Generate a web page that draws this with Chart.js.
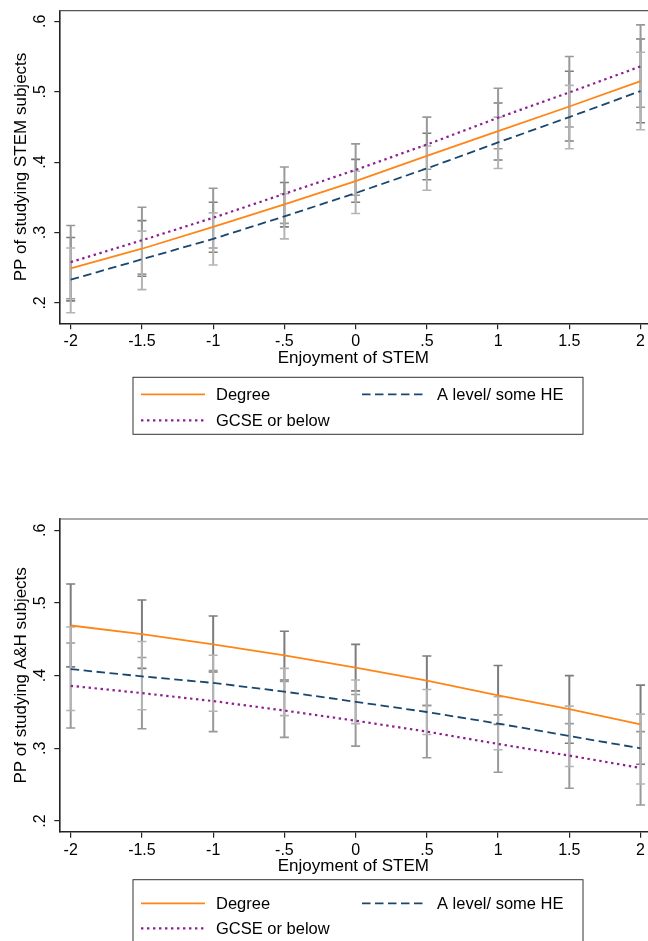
<!DOCTYPE html>
<html>
<head>
<meta charset="utf-8">
<script src="https://cdn.jsdelivr.net/npm/chart.js@4.4.1/dist/chart.umd.min.js"></script>
<style>
  html, body { margin: 0; padding: 0; background: #fff; }
  canvas { display: block; }
</style>
</head>
<body>
<canvas id="stem-chart" width="648" height="470"></canvas>
<canvas id="ah-chart" width="648" height="471"></canvas>
<script>
const enjoyment = [-2, -1.5, -1, -0.5, 0, 0.5, 1, 1.5, 2];
const xTickLabels = ['-2', '-1.5', '-1', '-.5', '0', '.5', '1', '1.5', '2'];
const yTickValues = [0.2, 0.3, 0.4, 0.5, 0.6];
const yTickLabels = ['.2', '.3', '.4', '.5', '.6'];

// predicted probability of studying STEM subjects, with 95% CI
const stemDegree   = [0.249, 0.277, 0.308, 0.340, 0.373, 0.409, 0.444, 0.479, 0.515];
const stemDegreeLo = [0.203, 0.238, 0.272, 0.308, 0.343, 0.375, 0.403, 0.430, 0.456];
const stemDegreeHi = [0.293, 0.317, 0.343, 0.371, 0.404, 0.441, 0.484, 0.529, 0.575];
const stemALevel   = [0.233, 0.262, 0.291, 0.323, 0.356, 0.391, 0.428, 0.464, 0.501];
const stemALevelLo = [0.186, 0.219, 0.254, 0.291, 0.327, 0.360, 0.391, 0.419, 0.446];
const stemALevelHi = [0.278, 0.302, 0.328, 0.355, 0.387, 0.423, 0.464, 0.509, 0.556];
const stemGcse     = [0.258, 0.289, 0.321, 0.355, 0.389, 0.425, 0.463, 0.499, 0.536];
const stemGcseLo   = [0.206, 0.241, 0.278, 0.313, 0.353, 0.390, 0.419, 0.450, 0.478];
const stemGcseHi   = [0.310, 0.336, 0.363, 0.393, 0.426, 0.464, 0.505, 0.550, 0.595];

// predicted probability of studying A&H subjects, with 95% CI
const ahDegree   = [0.469, 0.457, 0.443, 0.428, 0.411, 0.393, 0.373, 0.354, 0.333];
const ahDegreeLo = [0.412, 0.410, 0.405, 0.394, 0.379, 0.359, 0.333, 0.307, 0.278];
const ahDegreeHi = [0.526, 0.504, 0.482, 0.461, 0.443, 0.427, 0.414, 0.400, 0.387];
const ahALevel   = [0.409, 0.399, 0.390, 0.378, 0.364, 0.350, 0.334, 0.317, 0.300];
const ahALevelLo = [0.352, 0.353, 0.351, 0.345, 0.334, 0.319, 0.298, 0.275, 0.251];
const ahALevelHi = [0.467, 0.447, 0.428, 0.410, 0.394, 0.381, 0.371, 0.358, 0.347];
const ahGcse     = [0.386, 0.376, 0.365, 0.352, 0.338, 0.323, 0.306, 0.290, 0.273];
const ahGcseLo   = [0.328, 0.327, 0.323, 0.315, 0.303, 0.287, 0.267, 0.245, 0.222];
const ahGcseHi   = [0.445, 0.425, 0.407, 0.392, 0.374, 0.359, 0.346, 0.334, 0.323];

const FONT = '"Liberation Sans", Arial, Helvetica, sans-serif';

const groupStyles = {
    degree: { label: 'Degree', color: '#ff8517', dash: [], width: 1.8, ci: '#7c7c7c' },
    alevel: { label: 'A level/ some HE', color: '#1a476f', dash: [8.5, 4.5], width: 1.8, ci: '#b4b4b4' },
    gcse:   { label: 'GCSE or below', color: '#8e1f92', dash: [2.4, 3.6], width: 2.2, ci: '#999999' }
};

// confidence interval caps, drawn under the prediction lines
const ciPlugin = {
    id: 'ciBars',
    beforeDatasetsDraw(chart, args, opts) {
        const { ctx, scales: { x, y } } = chart;
        ctx.save();
        opts.series.forEach(s => {
            ctx.strokeStyle = s.ci;
            enjoyment.forEach((v, i) => {
                const px = x.getPixelForValue(v);
                const lo = y.getPixelForValue(s.lo[i]);
                const hi = y.getPixelForValue(s.hi[i]);
                ctx.lineWidth = 2;
                ctx.beginPath();
                ctx.moveTo(px, lo);
                ctx.lineTo(px, hi);
                ctx.stroke();
                ctx.lineWidth = 1.6;
                ctx.beginPath();
                ctx.moveTo(px - 4.5, lo); ctx.lineTo(px + 4.5, lo);
                ctx.moveTo(px - 4.5, hi); ctx.lineTo(px + 4.5, hi);
                ctx.stroke();
            });
        });
        ctx.restore();
    }
};

// top frame line, vertical y tick labels and the boxed legend
const framePlugin = {
    id: 'frameLegend',
    afterDraw(chart, args, opts) {
        const { ctx, chartArea, scales: { y } } = chart;
        ctx.save();
        ctx.strokeStyle = '#555';
        ctx.lineWidth = 1.2;
        ctx.beginPath();
        ctx.moveTo(chartArea.left, chartArea.top);
        ctx.lineTo(chart.width, chartArea.top);
        ctx.stroke();

        ctx.fillStyle = '#000';
        ctx.font = '16px ' + FONT;
        ctx.textAlign = 'center';
        ctx.textBaseline = 'middle';
        yTickValues.forEach((v, i) => {
            ctx.save();
            ctx.translate(40.7, y.getPixelForValue(v));
            ctx.rotate(-Math.PI / 2);
            ctx.fillText(yTickLabels[i], 0, 0);
            ctx.restore();
        });

        const top = chartArea.bottom + opts.boxTop;
        ctx.strokeStyle = '#333';
        ctx.lineWidth = 1;
        ctx.strokeRect(133, top, 450, opts.boxHeight);

        const rows = [
            { s: groupStyles.degree, x: 141, y: chartArea.bottom + opts.row1 },
            { s: groupStyles.alevel, x: 362, y: chartArea.bottom + opts.row1 },
            { s: groupStyles.gcse, x: 141, y: chartArea.bottom + opts.row2 }
        ];
        ctx.textAlign = 'left';
        ctx.font = '16.5px ' + FONT;
        rows.forEach(r => {
            ctx.strokeStyle = r.s.color;
            ctx.lineWidth = r.s.width;
            ctx.setLineDash(r.s.dash);
            ctx.beginPath();
            ctx.moveTo(r.x, r.y);
            ctx.lineTo(r.x + 64, r.y);
            ctx.stroke();
            ctx.setLineDash([]);
            ctx.fillText(r.s.label, r.x + 75, r.y + 1);
        });
        ctx.restore();
    }
};

function makeChart(id, yTitle, yMin, yMax, padTop, padBottom, legendPos, series) {
    const datasets = series.map(s => ({
        label: s.label,
        data: enjoyment.map((v, i) => ({ x: v, y: s.values[i] })),
        borderColor: s.color,
        borderWidth: s.width,
        borderDash: s.dash,
        borderCapStyle: 'butt',
        pointRadius: 0,
        fill: false,
        tension: 0
    }));

    return new Chart(document.getElementById(id), {
        type: 'line',
        data: { datasets },
        options: {
            responsive: false,
            animation: false,
            devicePixelRatio: 1,
            layout: { padding: { top: padTop, bottom: padBottom, left: 0, right: 0 } },
            plugins: {
                legend: { display: false },
                tooltip: { enabled: false },
                ciBars: { series: [series[0], series[2], series[1]] },
                frameLegend: legendPos
            },
            scales: {
                x: {
                    type: 'linear',
                    min: -2.08,
                    max: 2.048,
                    afterBuildTicks: s => { s.ticks = enjoyment.map(v => ({ value: v })); },
                    afterFit: s => { s.height = 45; },
                    ticks: {
                        callback: (v, i) => xTickLabels[i],
                        font: { family: FONT, size: 16 },
                        color: '#000',
                        padding: 3,
                        maxRotation: 0,
                        autoSkip: false
                    },
                    grid: { drawOnChartArea: false, drawTicks: true, tickLength: 6, color: '#222', lineWidth: 1.2 },
                    border: { display: true, color: '#222', width: 1.6 },
                    title: {
                        display: true,
                        text: 'Enjoyment of STEM',
                        font: { family: FONT, size: 17 },
                        color: '#000',
                        padding: { top: 0, bottom: 0 }
                    }
                },
                y: {
                    type: 'linear',
                    min: yMin,
                    max: yMax,
                    afterBuildTicks: s => { s.ticks = yTickValues.map(v => ({ value: v })); },
                    afterFit: s => { s.width = 59.3; },
                    ticks: { display: false },
                    grid: { drawOnChartArea: false, drawTicks: true, tickLength: 5, color: '#222', lineWidth: 1.2 },
                    border: { display: true, color: '#222', width: 1.6 },
                    title: {
                        display: true,
                        text: yTitle,
                        font: { family: FONT, size: 17 },
                        color: '#000',
                        padding: { top: 11, bottom: 0 }
                    }
                }
            }
        },
        plugins: [ciPlugin, framePlugin]
    });
}

const g = groupStyles;
makeChart('stem-chart', 'PP of studying STEM subjects', 0.1711, 0.6151, 10.7, 101.7,
    { boxTop: 54, boxHeight: 57, row1: 71, row2: 97 }, [
    { ...g.degree, values: stemDegree, lo: stemDegreeLo, hi: stemDegreeHi },
    { ...g.alevel, values: stemALevel, lo: stemALevelLo, hi: stemALevelHi },
    { ...g.gcse, values: stemGcse, lo: stemGcseLo, hi: stemGcseHi }
]);

makeChart('ah-chart', 'PP of studying A&H subjects', 0.1853, 0.6155, 49, 64.3,
    { boxTop: 48, boxHeight: 80, row1: 71.6, row2: 96.6 }, [
    { ...g.degree, values: ahDegree, lo: ahDegreeLo, hi: ahDegreeHi },
    { ...g.alevel, values: ahALevel, lo: ahALevelLo, hi: ahALevelHi },
    { ...g.gcse, values: ahGcse, lo: ahGcseLo, hi: ahGcseHi }
]);
</script>
</body>
</html>
